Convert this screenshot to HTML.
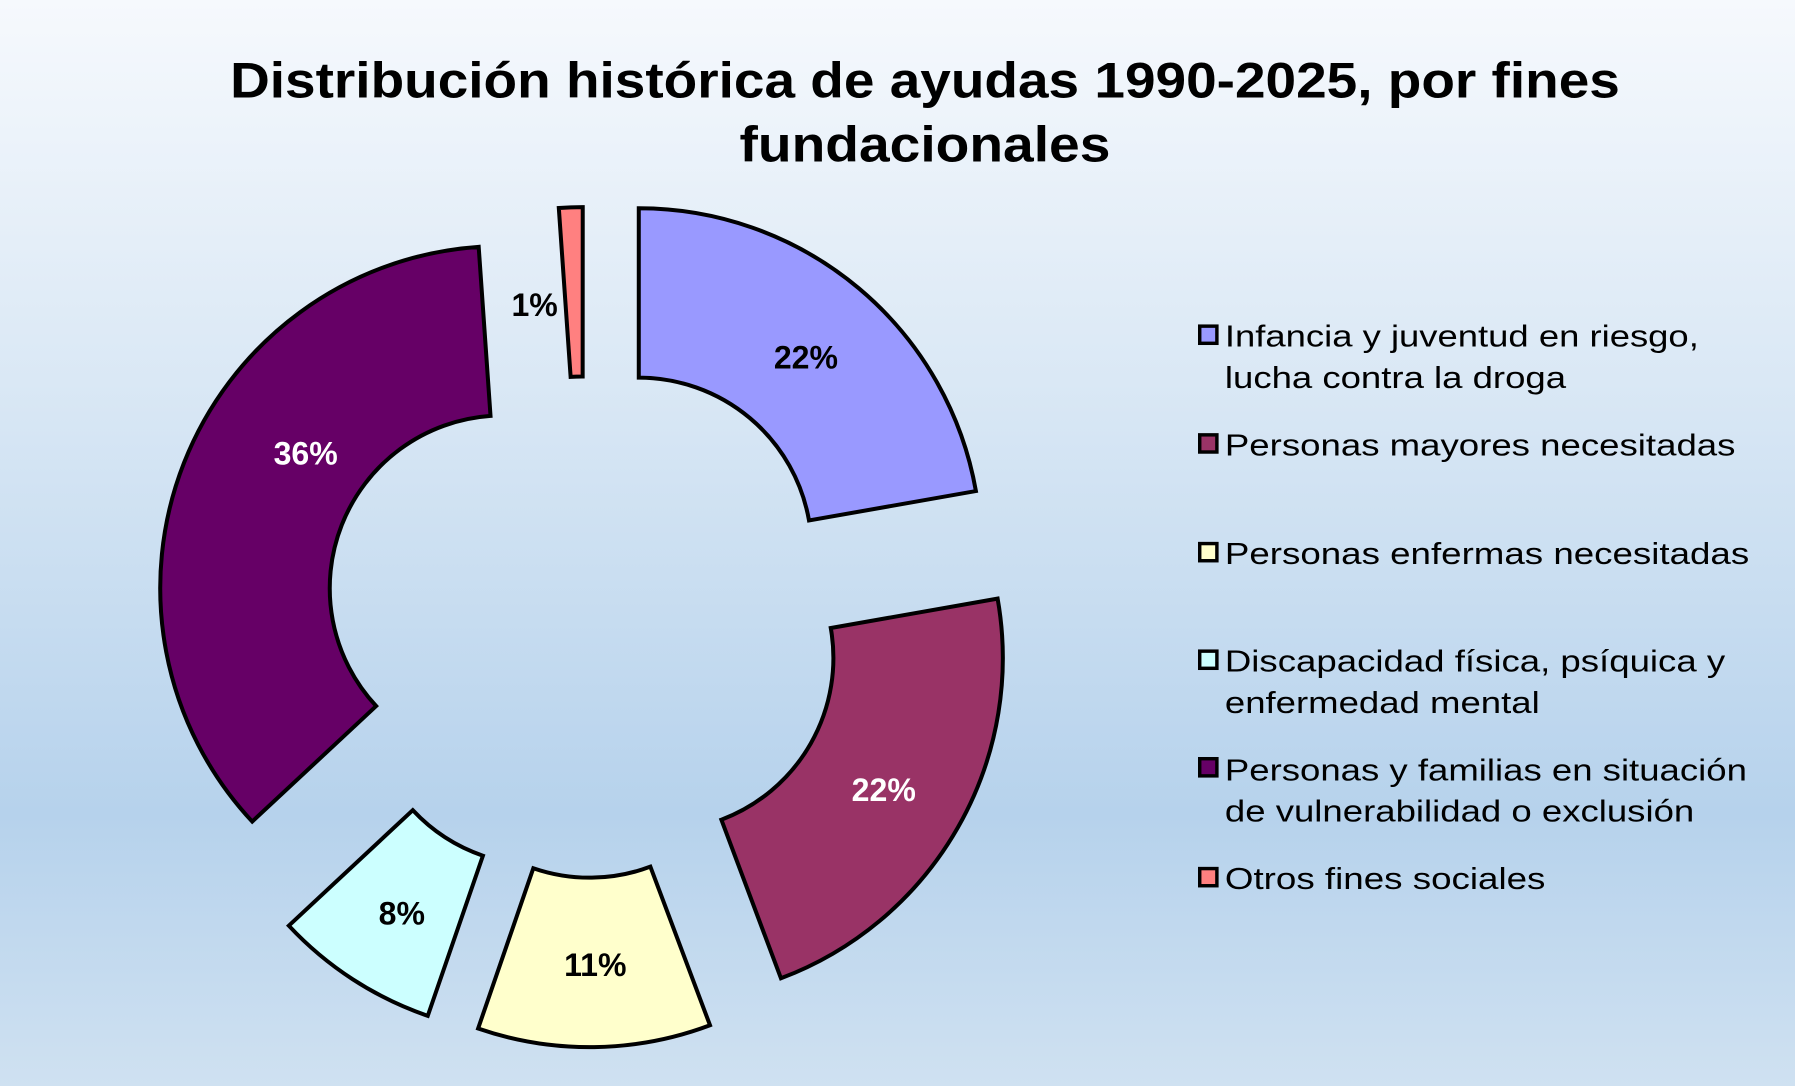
<!DOCTYPE html>
<html><head><meta charset="utf-8"><style>html,body{margin:0;padding:0;}svg{display:block;}</style></head>
<body>
<svg width="1795" height="1086" viewBox="0 0 1568 949" preserveAspectRatio="none" xmlns="http://www.w3.org/2000/svg">
<defs>
<linearGradient id="bg" x1="0" y1="0" x2="0" y2="1">
<stop offset="0" stop-color="#f6f9fd"/>
<stop offset="0.35" stop-color="#dae8f5"/>
<stop offset="0.75" stop-color="#b6d2ec"/>
<stop offset="1" stop-color="#cfe1f1"/>
</linearGradient>
</defs>
<rect width="1568" height="949" fill="url(#bg)"/>
<g font-family="Liberation Sans, Arial, sans-serif" font-weight="bold" font-size="44" text-anchor="middle" fill="#000">
<text x="808" y="85" textLength="1214" lengthAdjust="spacingAndGlyphs">Distribución histórica de ayudas 1990-2025, por fines</text>
<text x="808" y="141" textLength="324" lengthAdjust="spacingAndGlyphs">fundacionales</text>
</g>
<g stroke="#000" stroke-width="3.5" stroke-linejoin="miter">
<path transform="translate(558,481)" fill="#9999ff" d="M0,-299 A299,299 0 0 1 294.5,-51.9 L148.7,-26.2 A151,151 0 0 0 0,-151 Z"/>
<path transform="translate(577,575) rotate(80)" fill="#993366" d="M0,-299 A299,299 0 0 1 293.9,-55.0 L148.4,-27.8 A151,151 0 0 0 0,-151 Z"/>
<path transform="translate(515,616) rotate(159.4)" fill="#ffffcc" d="M0,-299 A299,299 0 0 1 190.6,-230.4 L96.2,-116.3 A151,151 0 0 0 0,-151 Z"/>
<path transform="translate(471,605) rotate(199)" fill="#ccffff" d="M0,-299 A299,299 0 0 1 140.4,-264.0 L70.9,-133.3 A151,151 0 0 0 0,-151 Z"/>
<path transform="translate(439,514) rotate(227)" fill="#660066" d="M0,-299 A299,299 0 0 1 232.4,188.2 L117.3,95.0 A151,151 0 0 0 0,-151 Z"/>
<path transform="translate(509,480) rotate(356)" fill="#ff8080" d="M0,-299 A299,299 0 0 1 20.9,-298.3 L10.5,-150.6 A151,151 0 0 0 0,-151 Z"/>
</g>
<g font-family="Liberation Sans, Arial, sans-serif" font-weight="bold" font-size="28" text-anchor="middle">
<text x="704" y="322" fill="#000">22%</text>
<text x="267" y="406" fill="#fff">36%</text>
<text x="467" y="276" fill="#000">1%</text>
<text x="772" y="700" fill="#fff">22%</text>
<text x="351" y="808" fill="#000">8%</text>
<text x="520" y="853" fill="#000">11%</text>
</g>
<g stroke="#000" stroke-width="3">
<rect x="1048" y="285" width="15" height="15" fill="#9999ff"/>
<rect x="1048" y="380" width="15" height="15" fill="#993366"/>
<rect x="1048" y="475" width="15" height="15" fill="#ffffcc"/>
<rect x="1048" y="569" width="15" height="15" fill="#ccffff"/>
<rect x="1048" y="663" width="15" height="15" fill="#660066"/>
<rect x="1048" y="759" width="15" height="15" fill="#ff8080"/>
</g>
<g font-family="Liberation Sans, Arial, sans-serif" font-size="27" fill="#000">
<text x="1070" y="303" textLength="414" lengthAdjust="spacingAndGlyphs">Infancia y juventud en riesgo,</text>
<text x="1070" y="339" textLength="298" lengthAdjust="spacingAndGlyphs">lucha contra la droga</text>
<text x="1070" y="398" textLength="446" lengthAdjust="spacingAndGlyphs">Personas mayores necesitadas</text>
<text x="1070" y="493" textLength="458" lengthAdjust="spacingAndGlyphs">Personas enfermas necesitadas</text>
<text x="1070" y="587" textLength="437" lengthAdjust="spacingAndGlyphs">Discapacidad física, psíquica y</text>
<text x="1070" y="623" textLength="275" lengthAdjust="spacingAndGlyphs">enfermedad mental</text>
<text x="1070" y="682" textLength="456" lengthAdjust="spacingAndGlyphs">Personas y familias en situación</text>
<text x="1070" y="718" textLength="410" lengthAdjust="spacingAndGlyphs">de vulnerabilidad o exclusión</text>
<text x="1070" y="777" textLength="280" lengthAdjust="spacingAndGlyphs">Otros fines sociales</text>
</g>
</svg>
</body></html>
